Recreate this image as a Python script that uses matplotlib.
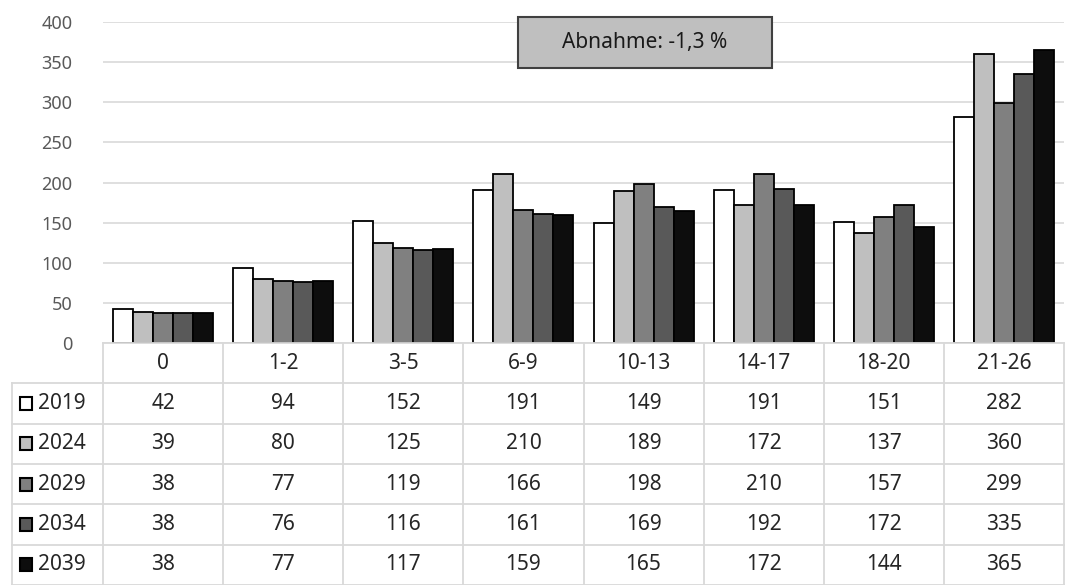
import matplotlib
matplotlib.use('Agg')
import matplotlib.pyplot as plt
import matplotlib.patches as mpatches

plt.rcParams['font.family'] = ['Noto Sans', 'DejaVu Sans']

categories = ['0', '1-2', '3-5', '6-9', '10-13', '14-17', '18-20', '21-26']
years = ['2019', '2024', '2029', '2034', '2039']
v2019 = [42, 94, 152, 191, 149, 191, 151, 282]
v2024 = [39, 80, 125, 210, 189, 172, 137, 360]
v2029 = [38, 77, 119, 166, 198, 210, 157, 299]
v2034 = [38, 76, 116, 161, 169, 192, 172, 335]
v2039 = [38, 77, 117, 159, 165, 172, 144, 365]
series = [v2019, v2024, v2029, v2034, v2039]
note = 'Abnahme: -1,3 %'

COLORS = ['#ffffff', '#bfbfbf', '#808080', '#595959', '#0d0d0d']
GRID = '#d9d9d9'
TICK = '#595959'
TXT = '#262626'

W, H = 1066, 585
fig = plt.figure(figsize=(W / 100, H / 100), dpi=100, facecolor='white')

x_left, x_right = 103, 1064
y_zero, y_top = 343, 22
ax = fig.add_axes([x_left / W, (H - y_zero) / H, (x_right - x_left) / W, (y_zero - y_top) / H])

n = len(categories)
bw = 1 / 6
for k, (vals, col) in enumerate(zip(series, COLORS)):
    xs = [i + (k - 2) * bw for i in range(n)]
    ax.bar(xs, vals, width=bw, color=col, edgecolor='black', linewidth=1.3, zorder=3)

ax.set_xlim(-0.5, n - 0.5)
ax.set_ylim(0, 400)
ax.set_yticks(range(0, 401, 50))
ax.yaxis.grid(True, color=GRID, linewidth=1.2, zorder=0)
ax.set_xticks([])
ax.tick_params(axis='y', length=0, pad=22, labelsize=13, labelcolor=TICK)
for s in ax.spines.values():
    s.set_visible(False)

# annotation box
ax.add_patch(mpatches.Rectangle((0.432, 0.857), 0.264, 0.159, transform=ax.transAxes,
                                facecolor='#bfbfbf', edgecolor='#404040', linewidth=1.5,
                                zorder=5, clip_on=False))
ax.text(0.564, 0.936, note, transform=ax.transAxes, ha='center', va='center',
        fontsize=15, color='#1a1a1a', zorder=6)

# data table below
col_w = (x_right - x_left) / n
tx0 = 12
tab = fig.add_axes([tx0 / W, 0, (x_right - tx0) / W, (H - y_zero) / H])
left_lim = -0.5 - (x_left - tx0) / col_w
tab.set_xlim(left_lim, n - 0.5)
rows = len(years) + 1
tab.set_ylim(0, rows)
tab.axis('off')

lw = 1.3
tab.plot([-0.5, n - 0.5], [rows, rows], color=GRID, lw=lw, clip_on=False)
for r in range(0, rows):
    tab.plot([left_lim, n - 0.5], [r, r], color=GRID, lw=lw, clip_on=False)
for c in range(n + 1):
    tab.plot([c - 0.5, c - 0.5], [0, rows], color=GRID, lw=lw, clip_on=False)
tab.plot([left_lim, left_lim], [0, rows - 1], color=GRID, lw=lw, clip_on=False)

for i, cat in enumerate(categories):
    tab.text(i, rows - 0.5, cat, ha='center', va='center', fontsize=15, color=TXT)

for k, (yr, vals, col) in enumerate(zip(years, series, COLORS)):
    yc = rows - 1.5 - k
    tab.add_patch(mpatches.Rectangle((left_lim + 0.065, yc - 0.16), 0.105, 0.32,
                                     facecolor=col, edgecolor='black', linewidth=1.5, clip_on=False))
    tab.text(left_lim + 0.22, yc, yr, ha='left', va='center', fontsize=15, color=TXT)
    for i, v in enumerate(vals):
        tab.text(i, yc, str(v), ha='center', va='center', fontsize=15, color=TXT)

fig.savefig('out.png', dpi=100, facecolor='white')
